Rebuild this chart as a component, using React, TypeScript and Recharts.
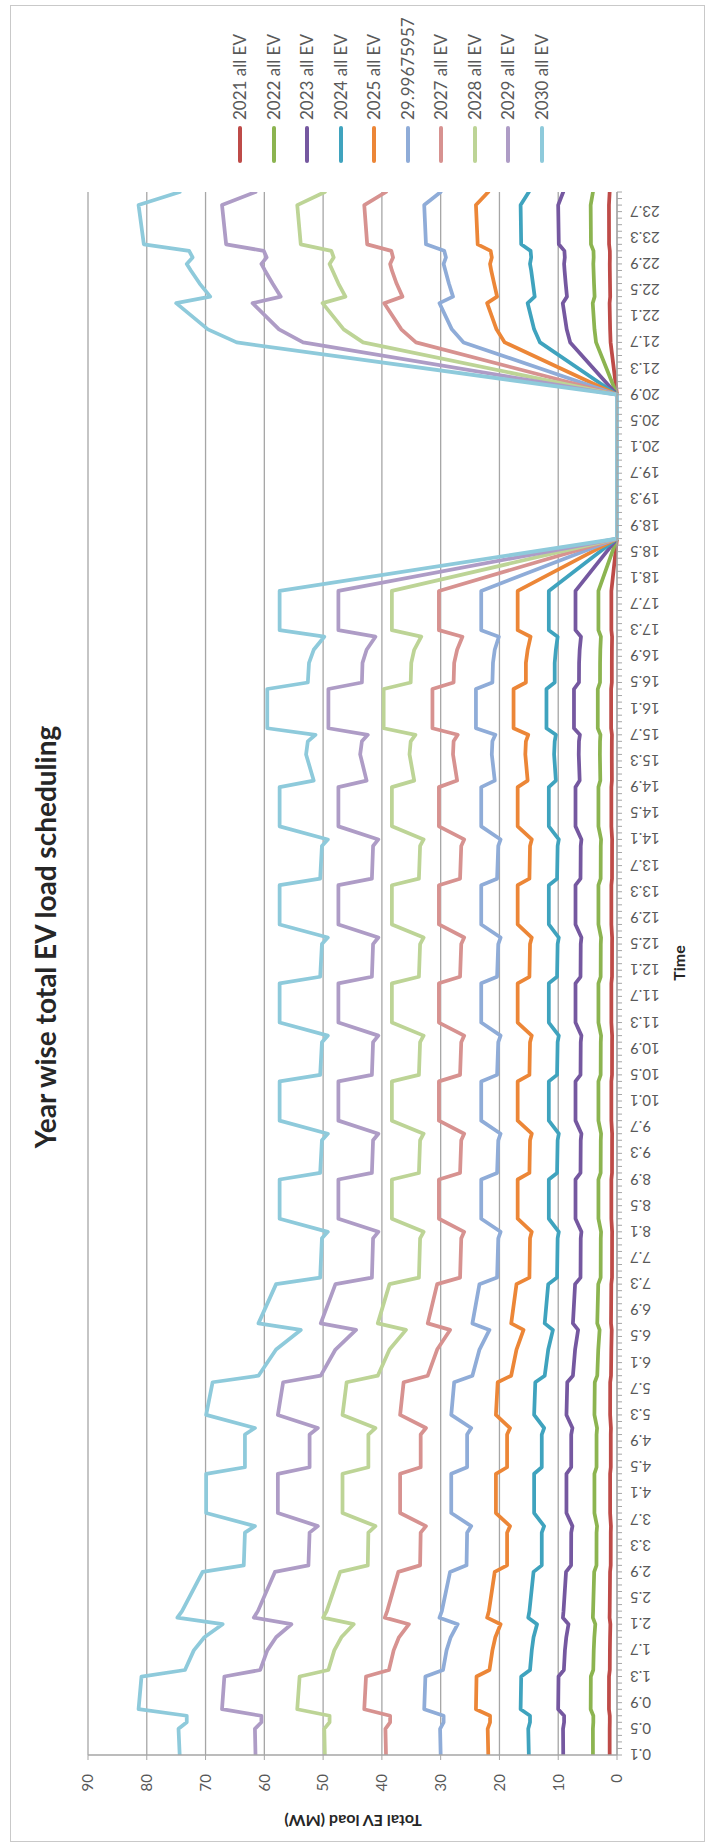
import React from 'react';
import { LineChart, Line, XAxis, YAxis, CartesianGrid } from 'recharts';

// Time (h) of each vertex of the curves
const times = [0.1, 0.5, 0.6, 0.7, 0.8, 1.3, 1.4, 1.7, 1.9, 2.1, 2.2, 2.3, 2.9, 3.0, 3.5, 3.6, 3.8, 4.4, 4.5, 5.0, 5.1, 5.3, 5.8, 5.9, 6.3, 6.6, 6.7, 7.3, 7.4, 8.0, 8.1, 8.3, 8.9, 9.0, 9.5, 9.6, 9.8, 10.4, 10.5, 11.0, 11.1, 11.3, 11.9, 12.0, 12.5, 12.6, 12.8, 13.4, 13.5, 14.0, 14.1, 14.3, 14.9, 15.0, 15.4, 15.6, 15.7, 15.8, 16.4, 16.5, 16.8, 17.0, 17.2, 17.3, 17.9, 18.7, 20.9, 21.7, 21.9, 22.3, 22.4, 22.6, 22.8, 22.9, 23.0, 23.1, 23.2, 23.8, 24.0];

const ev2021 = [1.25, 1.25, 1.23, 1.23, 1.37, 1.36, 1.23, 1.21, 1.18, 1.13, 1.26, 1.24, 1.18, 1.07, 1.06, 1.03, 1.17, 1.17, 1.06, 1.06, 1.03, 1.17, 1.16, 1.02, 0.97, 0.90, 1.02, 0.97,
  0.85, 0.84, 0.83, 0.96, 0.96, 0.85, 0.84, 0.83, 0.96, 0.96, 0.85, 0.84, 0.83, 0.96, 0.96, 0.85, 0.84, 0.83, 0.96, 0.96, 0.85, 0.84, 0.83, 0.96, 0.96,
  0.87, 0.89, 0.88, 0.86, 1.00, 1.00, 0.88, 0.88, 0.87, 0.84, 0.96, 0.96, 0, 0, 1.09, 1.17, 1.26, 1.16, 1.19, 1.22, 1.23, 1.21, 1.22, 1.35, 1.37, 1.25];
const ev2022 = [4.09, 4.10, 4.03, 4.03, 4.48, 4.45, 4.04, 3.96, 3.86, 3.69, 4.11, 4.07, 3.88, 3.49, 3.48, 3.39, 3.84, 3.84, 3.48, 3.48, 3.39, 3.84, 3.78, 3.36, 3.19, 2.96, 3.36, 3.19,
  2.78, 2.76, 2.71, 3.16, 3.16, 2.78, 2.76, 2.71, 3.16, 3.16, 2.78, 2.76, 2.71, 3.16, 3.16, 2.78, 2.76, 2.71, 3.16, 3.16, 2.78, 2.76, 2.71, 3.16, 3.16,
  2.84, 2.91, 2.89, 2.82, 3.27, 3.27, 2.89, 2.88, 2.84, 2.74, 3.16, 3.16, 0, 0, 3.56, 3.83, 4.13, 3.81, 3.91, 3.99, 4.03, 3.97, 4.00, 4.43, 4.48, 4.09];
const ev2023 = [9.15, 9.18, 9.00, 9.00, 10.01, 9.95, 9.04, 8.86, 8.63, 8.25, 9.20, 9.10, 8.67, 7.81, 7.79, 7.58, 8.60, 8.60, 7.79, 7.79, 7.58, 8.60, 8.46, 7.50, 7.13, 6.62, 7.50, 7.13,
  6.21, 6.17, 6.05, 7.06, 7.06, 6.21, 6.17, 6.05, 7.06, 7.06, 6.21, 6.17, 6.05, 7.06, 7.06, 6.21, 6.17, 6.05, 7.06, 7.06, 6.21, 6.17, 6.05, 7.06, 7.06,
  6.35, 6.51, 6.47, 6.31, 7.32, 7.32, 6.47, 6.45, 6.35, 6.13, 7.06, 7.06, 0, 0, 7.96, 8.56, 9.23, 8.51, 8.73, 8.92, 9.00, 8.88, 8.95, 9.90, 10.01, 9.15];
const ev2024 = [15.0, 15.1, 14.8, 14.8, 16.4, 16.3, 14.8, 14.5, 14.2, 13.6, 15.1, 14.9, 14.2, 12.8, 12.8, 12.4, 14.1, 14.1, 12.8, 12.8, 12.4, 14.1, 13.9, 12.3, 11.7, 10.9, 12.3, 11.7,
  10.2, 10.1, 9.9, 11.6, 11.6, 10.2, 10.1, 9.9, 11.6, 11.6, 10.2, 10.1, 9.9, 11.6, 11.6, 10.2, 10.1, 9.9, 11.6, 11.6, 10.2, 10.1, 9.9, 11.6, 11.6,
  10.4, 10.7, 10.6, 10.4, 12.0, 12.0, 10.6, 10.6, 10.4, 10.1, 11.6, 11.6, 0, 0, 13.1, 14.1, 15.2, 14.0, 14.3, 14.6, 14.8, 14.6, 14.7, 16.3, 16.4, 15.0];
const ev2025 = [21.9, 22.0, 21.6, 21.6, 24.0, 23.9, 21.7, 21.2, 20.7, 19.8, 22.1, 21.8, 20.8, 18.7, 18.7, 18.2, 20.6, 20.6, 18.7, 18.7, 18.2, 20.6, 20.3, 18.0, 17.1, 15.9, 18.0, 17.1,
  14.9, 14.8, 14.5, 16.9, 16.9, 14.9, 14.8, 14.5, 16.9, 16.9, 14.9, 14.8, 14.5, 16.9, 16.9, 14.9, 14.8, 14.5, 16.9, 16.9, 14.9, 14.8, 14.5, 16.9, 16.9,
  15.2, 15.6, 15.5, 15.1, 17.6, 17.6, 15.5, 15.5, 15.2, 14.7, 16.9, 16.9, 0, 0, 19.1, 20.5, 22.1, 20.4, 20.9, 21.4, 21.6, 21.3, 21.5, 23.7, 24.0, 21.9];
const ev2026 = [29.997, 30.1, 29.5, 29.5, 32.8, 32.6, 29.6, 29.0, 28.3, 27.1, 30.2, 29.8, 28.4, 25.6, 25.5, 24.8, 28.2, 28.2, 25.5, 25.5, 24.8, 28.2, 27.7, 24.6, 23.4, 21.7, 24.6, 23.4,
  20.4, 20.2, 19.8, 23.1, 23.1, 20.4, 20.2, 19.8, 23.1, 23.1, 20.4, 20.2, 19.8, 23.1, 23.1, 20.4, 20.2, 19.8, 23.1, 23.1, 20.4, 20.2, 19.8, 23.1, 23.1,
  20.8, 21.3, 21.2, 20.7, 24.0, 24.0, 21.2, 21.1, 20.8, 20.1, 23.1, 23.1, 0, 0, 26.1, 28.1, 30.2, 27.9, 28.6, 29.2, 29.5, 29.1, 29.4, 32.5, 32.8, 30.0];
const ev2027 = [39.3, 39.4, 38.6, 38.6, 43.0, 42.7, 38.8, 38.0, 37.1, 35.4, 39.5, 39.1, 37.2, 33.5, 33.4, 32.5, 36.9, 36.9, 33.4, 33.4, 32.5, 36.9, 36.3, 32.2, 30.6, 28.4, 32.2, 30.6,
  26.7, 26.5, 26.0, 30.3, 30.3, 26.7, 26.5, 26.0, 30.3, 30.3, 26.7, 26.5, 26.0, 30.3, 30.3, 26.7, 26.5, 26.0, 30.3, 30.3, 26.7, 26.5, 26.0, 30.3, 30.3,
  27.2, 27.9, 27.8, 27.1, 31.4, 31.4, 27.8, 27.7, 27.2, 26.3, 30.3, 30.3, 0, 0, 34.2, 36.7, 39.6, 36.5, 37.5, 38.3, 38.6, 38.1, 38.4, 42.5, 43.0, 39.3];
const ev2028 = [49.7, 49.8, 48.9, 48.9, 54.4, 54.0, 49.1, 48.1, 46.9, 44.8, 50.0, 49.4, 47.1, 42.4, 42.3, 41.1, 46.7, 46.7, 42.3, 42.3, 41.1, 46.7, 46.0, 40.7, 38.7, 35.9, 40.7, 38.7,
  33.7, 33.5, 32.9, 38.3, 38.3, 33.7, 33.5, 32.9, 38.3, 38.3, 33.7, 33.5, 32.9, 38.3, 38.3, 33.7, 33.5, 32.9, 38.3, 38.3, 33.7, 33.5, 32.9, 38.3, 38.3,
  34.5, 35.3, 35.1, 34.3, 39.7, 39.7, 35.1, 35.0, 34.5, 33.3, 38.3, 38.3, 0, 0, 43.2, 46.5, 50.1, 46.2, 47.4, 48.4, 48.9, 48.2, 48.6, 53.8, 54.4, 49.7];
const ev2029 = [61.5, 61.6, 60.5, 60.5, 67.2, 66.8, 60.7, 59.5, 58.0, 55.4, 61.8, 61.1, 58.2, 52.5, 52.3, 50.9, 57.7, 57.7, 52.3, 52.3, 50.9, 57.7, 56.8, 50.4, 47.9, 44.4, 50.4, 47.9,
  41.7, 41.5, 40.6, 47.4, 47.4, 41.7, 41.5, 40.6, 47.4, 47.4, 41.7, 41.5, 40.6, 47.4, 47.4, 41.7, 41.5, 40.6, 47.4, 47.4, 41.7, 41.5, 40.6, 47.4, 47.4,
  42.6, 43.7, 43.4, 42.4, 49.1, 49.1, 43.4, 43.3, 42.6, 41.1, 47.4, 47.4, 0, 0, 53.4, 57.5, 62.0, 57.2, 58.6, 59.9, 60.5, 59.6, 60.1, 66.5, 67.2, 61.5];
const ev2030 = [74.4, 74.6, 73.2, 73.2, 81.4, 80.9, 73.5, 72.0, 70.2, 67.1, 74.8, 74.0, 70.5, 63.5, 63.3, 61.6, 69.9, 69.9, 63.3, 63.3, 61.6, 69.9, 68.8, 61.0, 58.0, 53.8, 61.0, 58.0,
  50.5, 50.2, 49.2, 57.4, 57.4, 50.5, 50.2, 49.2, 57.4, 57.4, 50.5, 50.2, 49.2, 57.4, 57.4, 50.5, 50.2, 49.2, 57.4, 57.4, 50.5, 50.2, 49.2, 57.4, 57.4,
  51.6, 52.9, 52.6, 51.3, 59.5, 59.5, 52.6, 52.4, 51.6, 49.8, 57.4, 57.4, 0, 0, 64.7, 69.6, 75.0, 69.2, 71.0, 72.5, 73.2, 72.2, 72.8, 80.5, 81.4, 74.4];

const seriesNames = ['2021 all EV', '2022 all EV', '2023 all EV', '2024 all EV', '2025 all EV', '29.99675957', '2027 all EV', '2028 all EV', '2029 all EV', '2030 all EV'];
const seriesColors = ['#BE4B48', '#8CB450', '#7558A0', '#3FA3BE', '#EC8637', '#8FACD8', '#D79290', '#BDD496', '#AE9CC6', '#8ECADB'];
const seriesValues = [ev2021, ev2022, ev2023, ev2024, ev2025, ev2026, ev2027, ev2028, ev2029, ev2030];

const yTicks = [0, 10, 20, 30, 40, 50, 60, 70, 80, 90];
const xTicks = Array.from({ length: 240 }, (_, k) => (k + 1) / 10);

const title = 'Year wise total EV load scheduling';
const yTitle = 'Total EV load (MW)';
const xTitle = 'Time';

const rows = times.map((t, i) => {
  const r: any = { t };
  seriesValues.forEach((arr, j) => { r['s' + j] = arr[i]; });
  return r;
});

const FW = 1843;
const FH = 707;
const FONT = 'Lato, "Liberation Sans", Arial, sans-serif';
const TXT = '#595959';

function XTick(props: any) {
  const { x, y, payload } = props;
  const k = Math.round(payload.value * 10) - 1;
  if (k % 4 !== 0) return <g />;
  return (
    <text x={x} y={y} transform={`rotate(-90 ${x} ${y})`} textAnchor="end" dominantBaseline="central"
      fontSize={15} fill={TXT} fontFamily={FONT}>{payload.value.toFixed(1)}</text>
  );
}

function RotText({ cx, cy, text, size, bold, rotate }: any) {
  return (
    <div style={{
      position: 'absolute', left: cx - 300, top: cy - 20, width: 600, height: 40, lineHeight: '40px',
      textAlign: 'center', fontFamily: FONT, fontSize: size, fontWeight: bold ? 700 : 400, color: '#262626',
      transform: rotate ? `rotate(${rotate}deg)` : undefined, transformOrigin: '50% 50%', whiteSpace: 'nowrap',
    }}>{text}</div>
  );
}

export default function App() {
  return (
    <div style={{ position: 'absolute', left: 0, top: 0, width: 707, height: 1843, overflow: 'hidden', background: '#fff' }}>
      <div style={{
        position: 'absolute', left: 0, top: 0, width: FW, height: FH, background: '#fff',
        transformOrigin: '0 0', transform: `translateY(${FW}px) rotate(-90deg)`,
      }}>
        <div style={{ position: 'absolute', left: 1, top: 10, width: 1837, height: 695, boxSizing: 'border-box', border: '1px solid #c9c9c9' }} />
        <div style={{ position: 'absolute', left: 0, top: 0 }}>
          <LineChart width={FW} height={FH} data={rows} margin={{ top: 88, right: 192, bottom: 20, left: 28 }}>
            <CartesianGrid vertical={false} stroke="#A6A6A6" strokeWidth={1.3} />
            <XAxis type="number" dataKey="t" domain={[0.1, 24]} ticks={xTicks} interval={0} tick={<XTick />}
              tickSize={5} tickMargin={8} height={70} allowDataOverflow
              axisLine={{ stroke: '#A6A6A6', strokeWidth: 1.3 }} tickLine={{ stroke: '#A6A6A6' }} />
            <YAxis type="number" domain={[0, 90]} ticks={yTicks} interval={0} width={60} tickSize={5} tickMargin={14}
              axisLine={{ stroke: '#A6A6A6', strokeWidth: 1.3 }} tickLine={{ stroke: '#A6A6A6' }}
              tick={{ fontSize: 15, fill: TXT, fontFamily: FONT }} />
            {seriesValues.map((_, j) => (
              <Line key={j} type="linear" dataKey={'s' + j} name={seriesNames[j]} stroke={seriesColors[j]}
                strokeWidth={3.75} dot={false} isAnimationActive={false} strokeLinejoin="round" strokeLinecap="round" />
            ))}
          </LineChart>
        </div>
        <RotText cx={906} cy={45} text={title} size={28} bold />
        <RotText cx={22} cy={353} text={yTitle} size={16} bold rotate={-90} />
        <RotText cx={880} cy={679} text={xTitle} size={16} bold />
        {seriesNames.map((n, j) => {
          const cy = 240 + j * 33.5;
          return (
            <React.Fragment key={n}>
              <div style={{ position: 'absolute', left: 1680, top: cy - 2, width: 37, height: 4, background: seriesColors[j], borderRadius: 2 }} />
              <div style={{ position: 'absolute', left: 1723, top: cy - 12, height: 24, lineHeight: '24px', fontFamily: FONT, fontSize: 17, color: TXT, whiteSpace: 'nowrap' }}>{n}</div>
            </React.Fragment>
          );
        })}
      </div>
    </div>
  );
}
